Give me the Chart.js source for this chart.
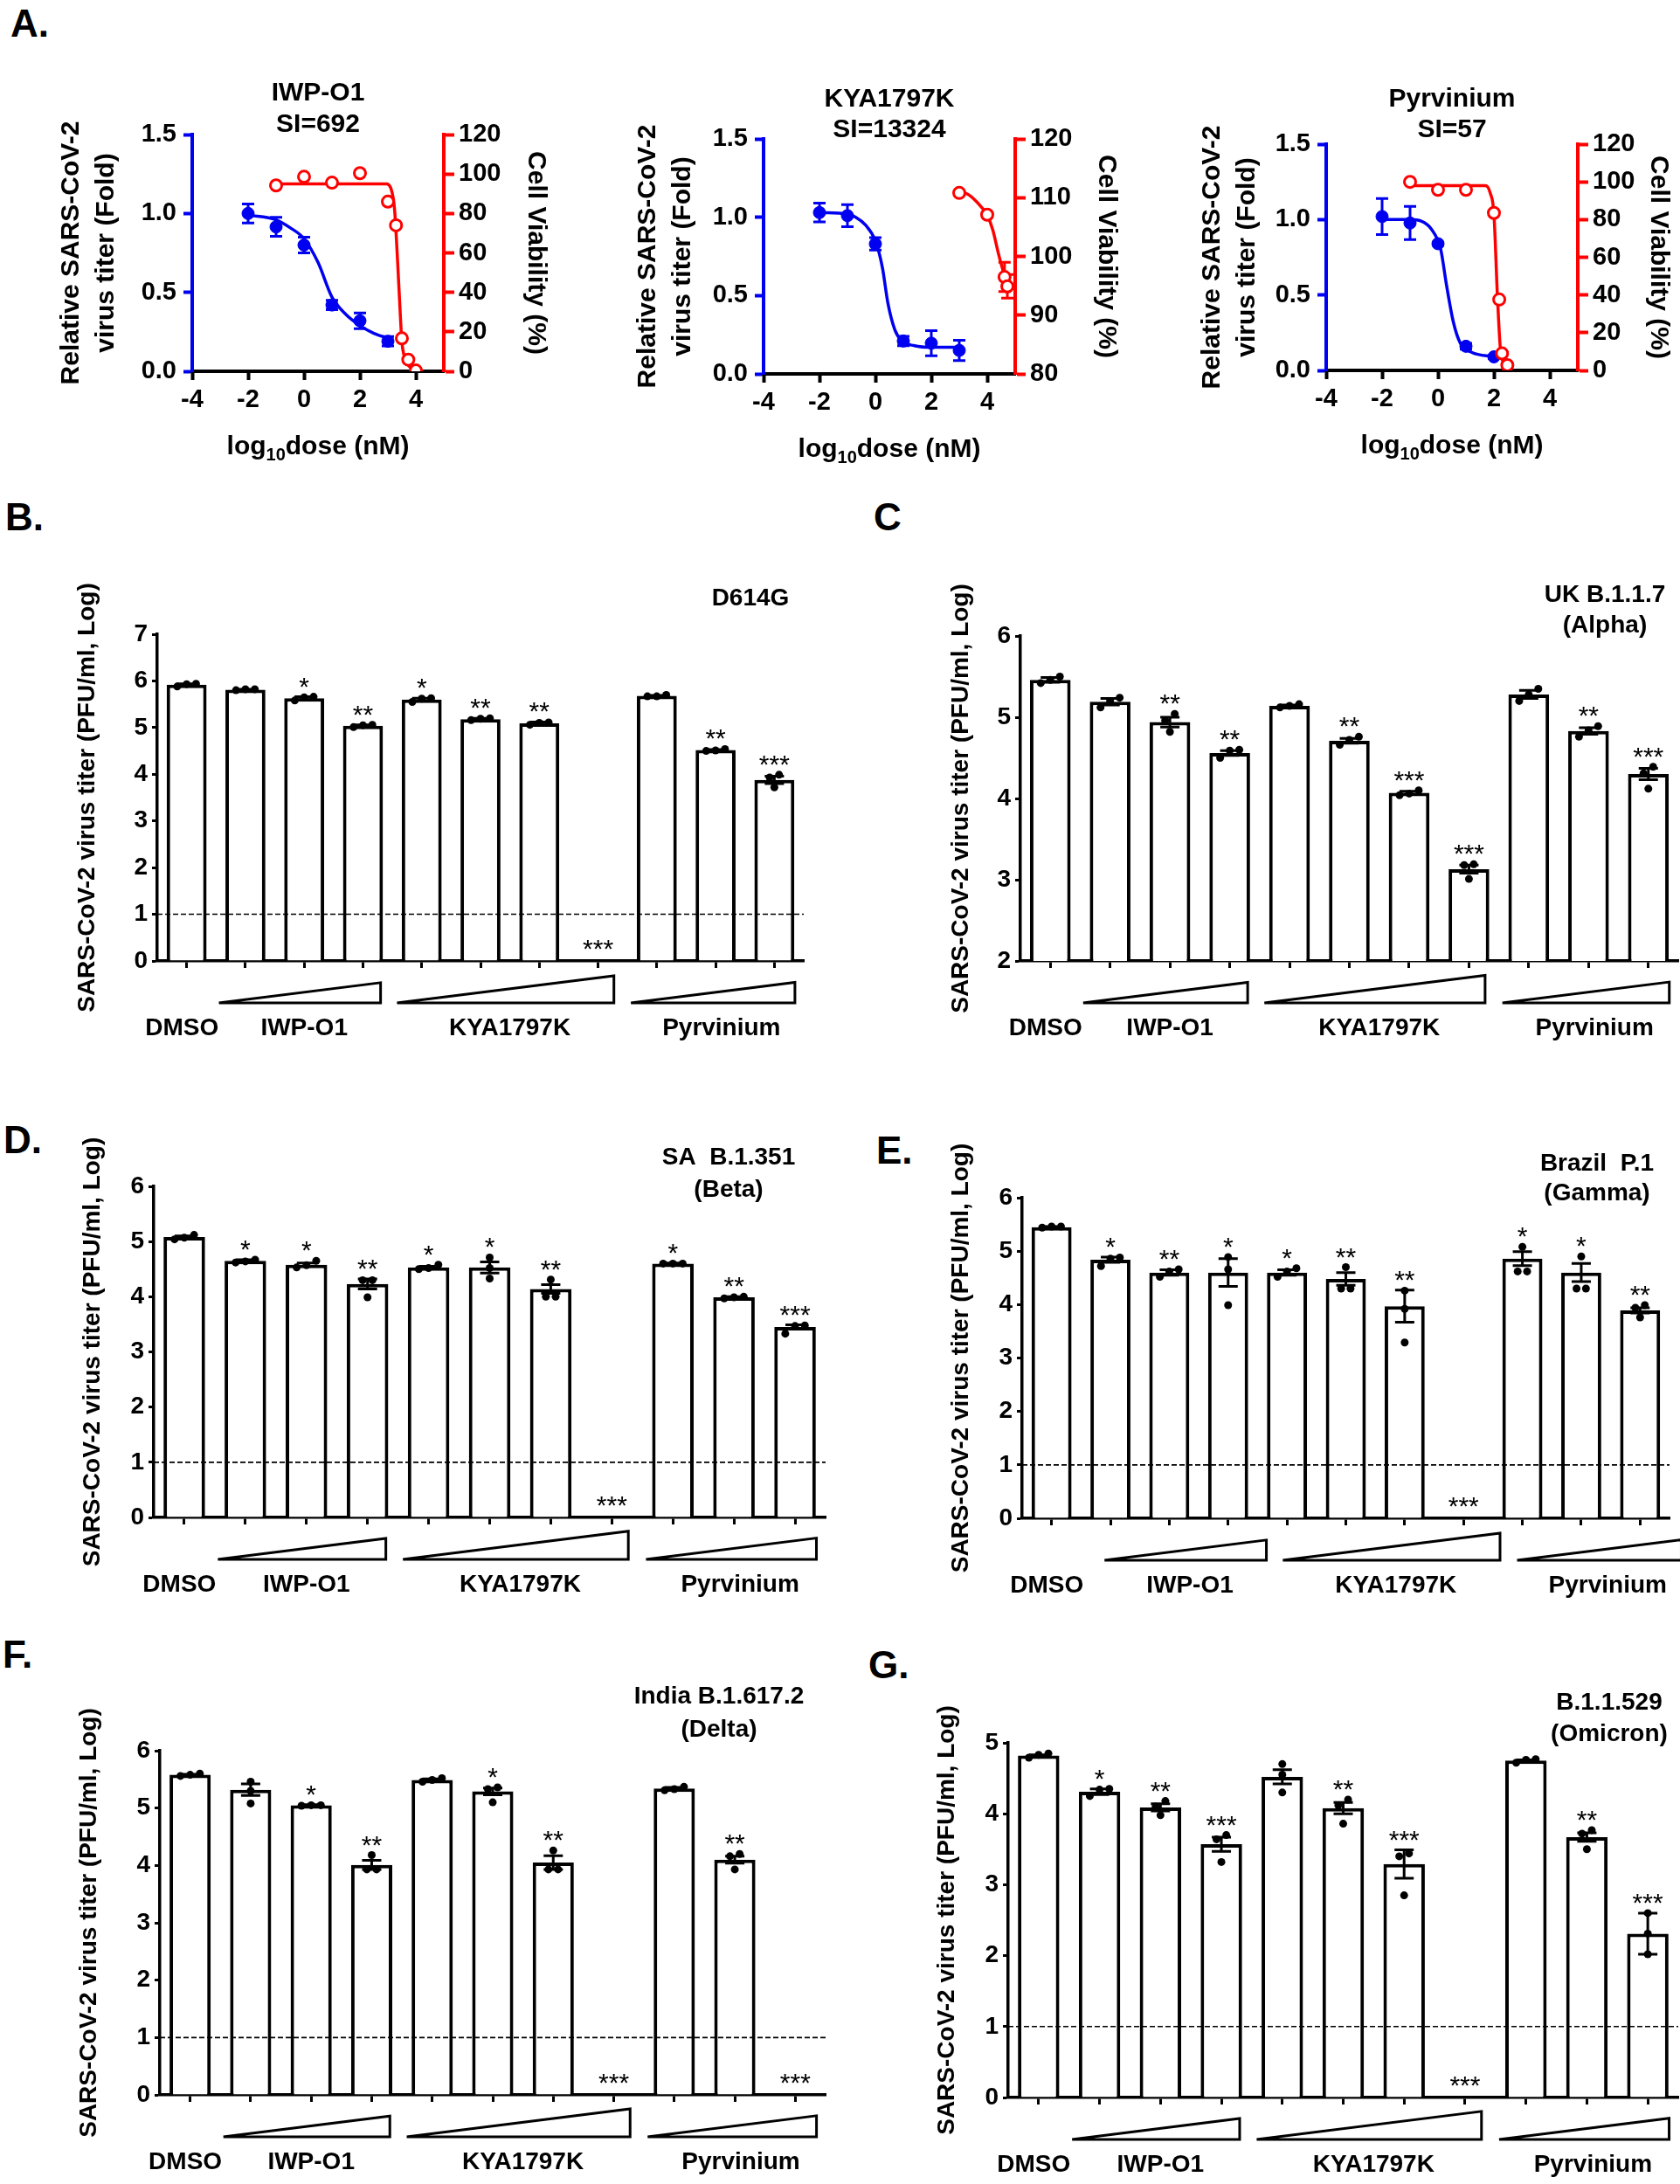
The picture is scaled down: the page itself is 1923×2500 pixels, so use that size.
<!DOCTYPE html>
<html>
<head>
<meta charset="utf-8">
<script src="https://cdn.jsdelivr.net/npm/chart.js@4.4.0/dist/chart.umd.min.js"></script>
<style>
  body { margin:0; background:#fff; width:1923px; height:2500px; position:relative; overflow:hidden; font-family:"Liberation Sans", Arial, sans-serif; }
  canvas { position:absolute; }
  .lbl { position:absolute; font-weight:bold; font-size:44px; line-height:44px; }
</style>
</head>
<body>
<div class="lbl" style="left:12px;top:5px">A.</div>
<div class="lbl" style="left:6px;top:570px">B.</div>
<div class="lbl" style="left:1000px;top:570px">C</div>
<div class="lbl" style="left:4px;top:1283px">D.</div>
<div class="lbl" style="left:1003px;top:1295px">E.</div>
<div class="lbl" style="left:3px;top:1872px">F.</div>
<div class="lbl" style="left:994px;top:1884px">G.</div>

<canvas id="aIWP"></canvas>
<canvas id="aKYA"></canvas>
<canvas id="aPyr"></canvas>
<canvas id="pB"></canvas>
<canvas id="pC"></canvas>
<canvas id="pD"></canvas>
<canvas id="pE"></canvas>
<canvas id="pF"></canvas>
<canvas id="pG"></canvas>

<script>
// ---------- Panel A: dose response (log10 dose, nM) ----------
const doseIWP = [-2, -1, 0, 1, 2, 3];
const titerIWP = [1.00, 0.915, 0.80, 0.42, 0.32, 0.19];
const titerErrIWP = [0.06, 0.06, 0.05, 0.03, 0.05, 0.03];
const titerFitIWPx = [-2, -1, -0.5, 0, 0.5, 1, 1.5, 2, 2.5, 3];
const titerFitIWPy = [0.99, 0.96, 0.91, 0.84, 0.69, 0.47, 0.36, 0.29, 0.24, 0.21];
const viabDoseIWP = [-1, 0, 1, 2, 3, 3.29, 3.5, 3.73, 4.0];
const viabIWP = [94.2, 98.6, 95.6, 100.4, 86, 74, 16.7, 5.9, 0.4];
const viabFitIWPx = [-1, 2.95, 3.1, 3.2, 3.25, 3.35, 3.45, 3.5, 3.6, 3.8, 4.0];
const viabFitIWPy = [95, 95, 93, 87, 80, 55, 27, 15, 7, 2, 0.3];

const doseKYA = [-2, -1, 0, 1, 2, 3];
const titerKYA = [1.03, 1.01, 0.83, 0.21, 0.196, 0.15];
const titerErrKYA = [0.06, 0.07, 0.04, 0.03, 0.08, 0.065];
const titerFitKYAx = [-2, -1, -0.7, -0.35, 0, 0.25, 0.45, 0.7, 0.95, 1.4, 2, 3];
const titerFitKYAy = [1.03, 1.02, 1.0, 0.95, 0.85, 0.68, 0.45, 0.28, 0.21, 0.18, 0.17, 0.17];
const viabDoseKYA = [3, 4, 4.62, 4.72];
const viabKYA = [110.8, 107.1, 96.5, 94.9];
const viabErrKYA = [0.4, 0.4, 2.5, 2.0];
const viabFitKYAx = [3, 3.3, 3.6, 4, 4.2, 4.4, 4.6, 4.72];
const viabFitKYAy = [111, 110.6, 109.4, 107, 104.5, 100.5, 97, 95];

const dosePyr = [-2, -1, 0, 1, 2];
const titerPyr = [1.02, 0.977, 0.84, 0.16, 0.09];
const titerErrPyr = [0.12, 0.11, 0.01, 0.02, 0.01];
const titerFitPyrx = [-2, -1, -0.6, -0.25, 0.1, 0.3, 0.55, 0.8, 1.2, 2];
const titerFitPyry = [1.0, 1.0, 0.99, 0.94, 0.8, 0.57, 0.32, 0.18, 0.12, 0.09];
const viabDosePyr = [-1, 0, 1, 2, 2.19, 2.29, 2.48];
const viabPyr = [100, 95.8, 95.8, 83.5, 37.6, 9, 2.8];
const viabFitPyrx = [-1, 1.7, 1.87, 2.0, 2.13, 2.25, 2.5];
const viabFitPyry = [98, 98, 94, 83, 38, 9, 2];

// ---------- Panels B-G: virus titer (PFU/ml, log) ----------
const barLabels = ['DMSO', 'IWP-O1 low', 'IWP-O1 mid', 'IWP-O1 high',
  'KYA1797K 1', 'KYA1797K 2', 'KYA1797K 3', 'KYA1797K 4',
  'Pyrvinium low', 'Pyrvinium mid', 'Pyrvinium high'];
const groupLabels = ['DMSO', 'IWP-O1', 'KYA1797K', 'Pyrvinium'];

// D614G
const bMeans = [5.92, 5.81, 5.63, 5.04, 5.60, 5.18, 5.09, null, 5.68, 4.52, 3.88];
const bSem = [0.02, 0.01, 0.03, 0.02, 0.03, 0.02, 0.03, null, 0.01, 0.01, 0.08];
const bDots = [[5.93, 5.88, 5.94], [5.82, 5.80, 5.82], [5.66, 5.58, 5.65], [5.06, 5.01, 5.05],
  [5.63, 5.55, 5.62], [5.20, 5.16, 5.19], [5.11, 5.06, 5.10], null,
  [5.70, 5.67, 5.67], [4.54, 4.50, 4.51], [3.93, 3.72, 3.99]];
const bStars = ['', '', '*', '**', '*', '**', '**', '***', '', '**', '***'];

// UK B.1.1.7 (Alpha)
const cMeans = [5.46, 5.19, 4.94, 4.56, 5.14, 4.71, 4.07, 3.13, 5.28, 4.83, 4.30];
const cSem = [0.03, 0.04, 0.06, 0.03, 0.01, 0.03, 0.02, 0.05, 0.05, 0.04, 0.07];
const cDots = [[5.50, 5.42, 5.46], [5.24, 5.12, 5.20], [5.04, 4.82, 4.96], [4.60, 4.50, 4.59],
  [5.16, 5.12, 5.14], [4.76, 4.66, 4.72], [4.10, 4.04, 4.06], [3.19, 3.01, 3.18],
  [5.35, 5.20, 5.28], [4.89, 4.76, 4.84], [4.39, 4.12, 4.31]];
const cStars = ['', '', '**', '**', '', '**', '***', '***', '', '**', '***'];

// SA B.1.351 (Beta)
const dMeans = [5.08, 4.65, 4.58, 4.23, 4.53, 4.53, 4.14, null, 4.60, 3.99, 3.45];
const dSem = [0.02, 0.02, 0.03, 0.09, 0.02, 0.10, 0.08, null, 0.01, 0.01, 0.04];
const dDots = [[5.12, 5.04, 5.07], [4.67, 4.62, 4.64], [4.65, 4.53, 4.57], [4.30, 3.99, 4.30],
  [4.58, 4.50, 4.52], [4.52, 4.71, 4.33], [4.00, 4.31, 4.00], null,
  [4.60, 4.60, 4.60], [4.00, 3.97, 3.99], [3.48, 3.33, 3.47]];
const dStars = ['', '*', '*', '**', '*', '*', '**', '***', '*', '**', '***'];

// Brazil P.1 (Gamma)
const eMeans = [5.45, 4.84, 4.60, 4.60, 4.60, 4.48, 3.97, null, 4.86, 4.60, 3.89];
const eSem = [0.01, 0.05, 0.05, 0.26, 0.05, 0.12, 0.30, null, 0.13, 0.17, 0.05];
const eDots = [[5.46, 5.44, 5.46], [4.88, 4.72, 4.86], [4.62, 4.52, 4.66], [4.66, 4.89, 3.99],
  [4.52, 4.68, 4.62], [4.30, 4.70, 4.30], [3.92, 4.26, 3.29], null,
  [4.62, 5.08, 4.62], [4.30, 4.90, 4.30], [3.99, 3.76, 3.94]];
const eStars = ['', '*', '**', '*', '*', '**', '**', '***', '*', '*', '**'];

// India B.1.617.2 (Delta)
const fMeans = [5.58, 5.32, 5.05, 4.01, 5.49, 5.29, 4.05, null, 5.34, 4.10, null];
const fSem = [0.01, 0.10, 0.01, 0.08, 0.02, 0.06, 0.12, null, 0.02, 0.06, null];
const fDots = [[5.60, 5.56, 5.58], [5.46, 5.08, 5.30], [5.05, 5.04, 5.05], [3.93, 4.18, 3.93],
  [5.52, 5.46, 5.49], [5.36, 5.10, 5.33], [3.93, 4.26, 3.93], null,
  [5.37, 5.31, 5.33], [4.20, 3.93, 4.16], null];
const fStars = ['', '', '*', '**', '', '*', '**', '***', '', '**', '***'];

// B.1.1.529 (Omicron)
const gMeans = [4.82, 4.31, 4.09, 3.57, 4.52, 4.08, 3.29, null, 4.75, 3.67, 2.31];
const gSem = [0.01, 0.04, 0.05, 0.10, 0.10, 0.08, 0.20, null, 0.01, 0.06, 0.29];
const gDots = [[4.85, 4.79, 4.83], [4.35, 4.25, 4.34], [4.18, 3.98, 4.10], [3.70, 3.32, 3.64],
  [4.70, 4.30, 4.55], [4.20, 3.86, 4.12], [3.44, 2.85, 3.40], null,
  [4.77, 4.72, 4.76], [3.77, 3.50, 3.72], [2.60, 2.02, 2.31]];
const gStars = ['', '*', '**', '***', '', '**', '***', '***', '', '**', '***'];

// ---------- drawing ----------
const FONT = '"Liberation Sans", Arial, sans-serif';
const BLUE = '#0000f0';
const RED = '#ff0000';
Chart.defaults.font.family = FONT;
Chart.defaults.color = '#000';

function place(id, rect) {
  const cv = document.getElementById(id);
  cv.width = rect.w; cv.height = rect.h;
  cv.style.left = rect.x + 'px'; cv.style.top = rect.y + 'px';
  return cv;
}
const pts = (xs, ys) => xs.map((x, i) => ({x: x, y: ys[i]}));

function errBar(ctx, x, y1, y2, half, color, w) {
  ctx.save();
  ctx.strokeStyle = color; ctx.lineWidth = w;
  ctx.beginPath();
  ctx.moveTo(x, y1); ctx.lineTo(x, y2);
  ctx.moveTo(x - half, y1); ctx.lineTo(x + half, y1);
  ctx.moveTo(x - half, y2); ctx.lineTo(x + half, y2);
  ctx.stroke();
  ctx.restore();
}

function doseChart(id, rect, area, d) {
  const cv = place(id, rect);
  const lh = 40;
  const tFont = {size: 30, weight: 'bold', lineHeight: lh / 30};
  const tickFont = {size: 29, weight: 'bold'};
  const extras = {
    id: 'doseExtras',
    beforeDatasetsDraw(chart) {
      const {ctx, scales} = chart;
      d.dose.forEach((x, i) => {
        const px = scales.x.getPixelForValue(x);
        errBar(ctx, px, scales.y.getPixelForValue(d.titer[i] + d.err[i]),
          scales.y.getPixelForValue(d.titer[i] - d.err[i]), 7, BLUE, 3);
      });
      if (d.vErr) d.vDose.forEach((x, i) => {
        const px = scales.x.getPixelForValue(x);
        errBar(ctx, px, scales.y2.getPixelForValue(d.viab[i] + d.vErr[i]),
          scales.y2.getPixelForValue(d.viab[i] - d.vErr[i]), 7, RED, 3);
      });
    },
    afterDraw(chart) {
      const {ctx, chartArea} = chart;
      const cx = (chartArea.left + chartArea.right) / 2;
      ctx.save();
      ctx.fillStyle = '#000';
      ctx.textAlign = 'center'; ctx.textBaseline = 'middle';
      ctx.font = 'bold 30px ' + FONT;
      d.title.forEach((t, k) => ctx.fillText(t, cx, d.titleY[k] - rect.y));
      // x axis title with subscript
      const big = 'bold 30px ' + FONT, small = 'bold 20px ' + FONT;
      ctx.font = big; const w1 = ctx.measureText('log').width, w3 = ctx.measureText('dose (nM)').width;
      ctx.font = small; const w2 = ctx.measureText('10').width;
      let x0 = cx - (w1 + w2 + w3) / 2;
      const y0 = chartArea.bottom + 87;
      ctx.textAlign = 'left';
      ctx.font = big; ctx.fillText('log', x0, y0);
      ctx.font = small; ctx.fillText('10', x0 + w1, y0 + 9);
      ctx.font = big; ctx.fillText('dose (nM)', x0 + w1 + w2, y0);
      ctx.restore();
    }
  };
  new Chart(cv, {
    type: 'scatter',
    data: {datasets: [
      {data: pts(d.fitX, d.fitY), showLine: true, borderColor: BLUE, borderWidth: 3.5, pointRadius: 0,
        cubicInterpolationMode: 'monotone', yAxisID: 'y', order: 3},
      {data: pts(d.vFitX, d.vFitY), showLine: true, borderColor: RED, borderWidth: 3.5, pointRadius: 0,
        cubicInterpolationMode: 'monotone', yAxisID: 'y2', order: 2},
      {data: pts(d.dose, d.titer), pointRadius: 7, backgroundColor: BLUE, borderColor: BLUE, yAxisID: 'y', order: 1},
      {data: pts(d.vDose, d.viab), pointRadius: 6.5, backgroundColor: '#fff', borderColor: RED, borderWidth: 3,
        yAxisID: 'y2', order: 0}
    ]},
    options: {
      responsive: false, animation: false, devicePixelRatio: 1,
      layout: {autoPadding: false, padding: {top: area.t - rect.y, left: 0, right: 0, bottom: 0}},
      plugins: {legend: {display: false}, tooltip: {enabled: false}},
      scales: {
        x: {type: 'linear', position: 'bottom', min: -4, max: 5,
          afterBuildTicks: s => { s.ticks = [-4, -2, 0, 2, 4].map(v => ({value: v})); },
          ticks: {font: tickFont, padding: 6, callback: v => String(v)},
          grid: {drawOnChartArea: false, color: '#000', tickLength: 10, tickWidth: 4},
          border: {color: '#000', width: 4},
          afterFit: s => { s.height = rect.y + rect.h - area.b; }},
        y: {position: 'left', min: 0, max: 1.5,
          ticks: {stepSize: 0.5, font: tickFont, padding: 8, callback: v => v.toFixed(1)},
          grid: {drawOnChartArea: false, color: BLUE, tickLength: 10, tickWidth: 4},
          border: {color: BLUE, width: 4},
          title: {display: true, text: ['Relative SARS-CoV-2', 'virus titer (Fold)'], font: tFont,
            padding: {top: d.yTitleX - rect.x - lh / 2, bottom: 0}},
          afterFit: s => { s.width = area.l - rect.x; }},
        y2: {position: 'right', min: d.vMin, max: d.vMax,
          ticks: {stepSize: d.vStep, font: tickFont, padding: 5},
          grid: {drawOnChartArea: false, color: RED, tickLength: 12, tickWidth: 4},
          border: {color: RED, width: 4},
          title: {display: true, text: 'Cell Viability (%)', font: tFont,
            padding: {top: rect.x + rect.w - d.vTitleX - lh / 2, bottom: 0}},
          afterFit: s => { s.width = rect.x + rect.w - area.r; }}
      }
    },
    plugins: [extras]
  });
}

doseChart('aIWP', {x: 0, y: 40, w: 650, h: 510}, {l: 220, t: 154, r: 508, b: 425}, {
  dose: doseIWP, titer: titerIWP, err: titerErrIWP, fitX: titerFitIWPx, fitY: titerFitIWPy,
  vDose: viabDoseIWP, viab: viabIWP, vFitX: viabFitIWPx, vFitY: viabFitIWPy,
  vMin: 0, vMax: 120, vStep: 20, title: ['IWP-O1', 'SI=692'], titleY: [107, 143],
  yTitleX: 82, vTitleX: 613});
doseChart('aKYA', {x: 650, y: 40, w: 650, h: 510}, {l: 874, t: 159, r: 1162, b: 428}, {
  dose: doseKYA, titer: titerKYA, err: titerErrKYA, fitX: titerFitKYAx, fitY: titerFitKYAy,
  vDose: viabDoseKYA, viab: viabKYA, vErr: viabErrKYA, vFitX: viabFitKYAx, vFitY: viabFitKYAy,
  vMin: 80, vMax: 120, vStep: 10, title: ['KYA1797K', 'SI=13324'], titleY: [114, 149],
  yTitleX: 742, vTitleX: 1266});
doseChart('aPyr', {x: 1300, y: 40, w: 623, h: 510}, {l: 1518, t: 165, r: 1806, b: 424}, {
  dose: dosePyr, titer: titerPyr, err: titerErrPyr, fitX: titerFitPyrx, fitY: titerFitPyry,
  vDose: viabDosePyr, viab: viabPyr, vFitX: viabFitPyrx, vFitY: viabFitPyry,
  vMin: 0, vMax: 120, vStep: 20, title: ['Pyrvinium', 'SI=57'], titleY: [114, 149],
  yTitleX: 1388, vTitleX: 1898});

// dots that would overlap are set side by side, like a column scatter
function spread(trip, thr) {
  const idx = trip.map((v, k) => k).sort((a, b) => trip[a] - trip[b]);
  const groups = [[idx[0]]];
  for (let j = 1; j < idx.length; j++) {
    if (trip[idx[j]] - trip[idx[j - 1]] < thr) groups[groups.length - 1].push(idx[j]);
    else groups.push([idx[j]]);
  }
  const off = [];
  groups.forEach(g => g.forEach((k, j) => { off[k] = (j - (g.length - 1) / 2) * 0.16; }));
  return off;
}

function barPanel(id, rect, area, p) {
  const cv = place(id, rect);
  const thr = 9 * (p.yMax - p.yMin) / (area.b - area.t);
  const dotData = [];
  p.dots.forEach((trip, i) => {
    if (!trip) return;
    const off = spread(trip, thr);
    trip.forEach((v, k) => dotData.push({x: i + off[k], y: v}));
  });
  const shift = p.shift || 0;
  const wedges = [[0.55, 3.3], [3.58, 7.27], [7.56, 10.35]];
  const labelAt = [-0.08, 2.0, 5.5, 9.1];
  const extras = {
    id: 'barExtras',
    afterDatasetsDraw(chart) {
      const {ctx, chartArea, scales} = chart;
      const xs = scales.xd, ys = scales.y;
      if (p.dashed) {
        ctx.save();
        ctx.strokeStyle = '#000'; ctx.lineWidth = 1.6; ctx.setLineDash([6, 3]);
        const yy = ys.getPixelForValue(1);
        ctx.beginPath(); ctx.moveTo(chartArea.left, yy); ctx.lineTo(chartArea.right, yy); ctx.stroke();
        ctx.restore();
      }
      p.means.forEach((m, i) => {
        if (m === null) return;
        errBar(ctx, xs.getPixelForValue(i), ys.getPixelForValue(m + p.sem[i]),
          ys.getPixelForValue(m - p.sem[i]), 11, '#000', 3);
      });
      ctx.save();
      ctx.fillStyle = '#000'; ctx.textAlign = 'center'; ctx.textBaseline = 'alphabetic';
      ctx.font = '30px ' + FONT;
      p.stars.forEach((s, i) => {
        if (!s) return;
        const x = xs.getPixelForValue(i);
        let base;
        if (p.means[i] === null) base = ys.getPixelForValue(p.yMin) - 4;
        else {
          const top = Math.max(p.means[i] + p.sem[i], ...p.dots[i]);
          base = ys.getPixelForValue(top) - 5 + 3;
        }
        ctx.fillText(s, x, base);
      });
      ctx.restore();
    },
    afterDraw(chart) {
      const {ctx, chartArea, scales} = chart;
      const xs = scales.xd;
      ctx.save();
      ctx.strokeStyle = '#000'; ctx.lineWidth = 3; ctx.lineJoin = 'miter';
      const base = chartArea.bottom + 48;
      wedges.forEach(([a, b]) => {
        const x0 = xs.getPixelForValue(a + shift), x1 = xs.getPixelForValue(b + shift);
        const h = 0.125 * (x1 - x0);
        ctx.beginPath(); ctx.moveTo(x0, base); ctx.lineTo(x1, base); ctx.lineTo(x1, base - h); ctx.closePath();
        ctx.stroke();
      });
      ctx.fillStyle = '#000'; ctx.textAlign = 'center'; ctx.textBaseline = 'middle';
      ctx.font = 'bold 28px ' + FONT;
      groupLabels.forEach((g, k) => {
        ctx.fillText(g, xs.getPixelForValue(labelAt[k] + (k ? shift : 0)), chartArea.bottom + 77);
      });
      p.title.forEach((t, k) => ctx.fillText(t, p.titleX - rect.x, p.titleY[k] - rect.y));
      ctx.restore();
    }
  };
  const lh = 28 * 1.2;
  new Chart(cv, {
    type: 'bar',
    data: {labels: barLabels, datasets: [
      {data: p.means, backgroundColor: '#fff', borderColor: '#000', borderWidth: 4, grouped: false,
        categoryPercentage: 1, barPercentage: 0.68, order: 2},
      {type: 'scatter', data: dotData, xAxisID: 'xd', pointRadius: 4.5, borderWidth: 0,
        backgroundColor: '#000', borderColor: '#000', order: 1}
    ]},
    options: {
      responsive: false, animation: false, devicePixelRatio: 1,
      layout: {autoPadding: false, padding: {top: area.t - rect.y, left: 0, right: rect.x + rect.w - area.r, bottom: 0}},
      plugins: {legend: {display: false}, tooltip: {enabled: false}},
      scales: {
        x: {type: 'category', offset: true, ticks: {display: false},
          grid: {offset: false, drawOnChartArea: false, color: '#000', tickLength: 8, tickWidth: 3},
          border: {color: '#000', width: 3.5},
          afterFit: s => { s.height = rect.y + rect.h - area.b; }},
        xd: {type: 'linear', display: false, offset: false, min: -0.5, max: 10.5},
        y: {min: p.yMin, max: p.yMax,
          ticks: {stepSize: 1, font: {size: 28, weight: 'bold'}, padding: 5},
          grid: {drawOnChartArea: false, color: '#000', tickLength: 6, tickWidth: 3},
          border: {color: '#000', width: 3.5},
          title: {display: true, text: 'SARS-CoV-2 virus titer (PFU/ml, Log)', font: {size: 28, weight: 'bold'},
            padding: {top: p.yTitleX - rect.x - lh / 2, bottom: 0}},
          afterFit: s => { s.width = area.l - rect.x; }}
      }
    },
    plugins: [extras]
  });
}

barPanel('pB', {x: 0, y: 560, w: 960, h: 650}, {l: 180, t: 726, r: 920, b: 1100},
  {means: bMeans, sem: bSem, dots: bDots, stars: bStars, yMin: 0, yMax: 7, dashed: true,
   title: ['D614G'], titleX: 859, titleY: [685], yTitleX: 100});
barPanel('pC', {x: 960, y: 560, w: 963, h: 650}, {l: 1168, t: 728, r: 1921, b: 1100},
  {means: cMeans, sem: cSem, dots: cDots, stars: cStars, yMin: 2, yMax: 6, dashed: false,
   title: ['UK B.1.1.7', '(Alpha)'], titleX: 1837, titleY: [681, 716], yTitleX: 1100});
barPanel('pD', {x: 0, y: 1250, w: 960, h: 600}, {l: 176, t: 1358, r: 945, b: 1737},
  {means: dMeans, sem: dSem, dots: dDots, stars: dStars, yMin: 0, yMax: 6, dashed: true,
   title: ['SA  B.1.351', '(Beta)'], titleX: 834, titleY: [1325, 1362], yTitleX: 106});
barPanel('pE', {x: 960, y: 1250, w: 963, h: 600}, {l: 1170, t: 1371, r: 1911, b: 1738},
  {means: eMeans, sem: eSem, dots: eDots, stars: eStars, yMin: 0, yMax: 6, dashed: true, shift: 0.35,
   title: ['Brazil  P.1', '(Gamma)'], titleX: 1828, titleY: [1332, 1366], yTitleX: 1100});
barPanel('pF', {x: 0, y: 1880, w: 960, h: 620}, {l: 183, t: 2004, r: 945, b: 2398},
  {means: fMeans, sem: fSem, dots: fDots, stars: fStars, yMin: 0, yMax: 6, dashed: true,
   title: ['India B.1.617.2', '(Delta)'], titleX: 823, titleY: [1942, 1980], yTitleX: 102});
barPanel('pG', {x: 960, y: 1880, w: 963, h: 620}, {l: 1154, t: 1995, r: 1921, b: 2401},
  {means: gMeans, sem: gSem, dots: gDots, stars: gStars, yMin: 0, yMax: 5, dashed: true,
   title: ['B.1.1.529', '(Omicron)'], titleX: 1842, titleY: [1949, 1985], yTitleX: 1084});
</script>
</body>
</html>
